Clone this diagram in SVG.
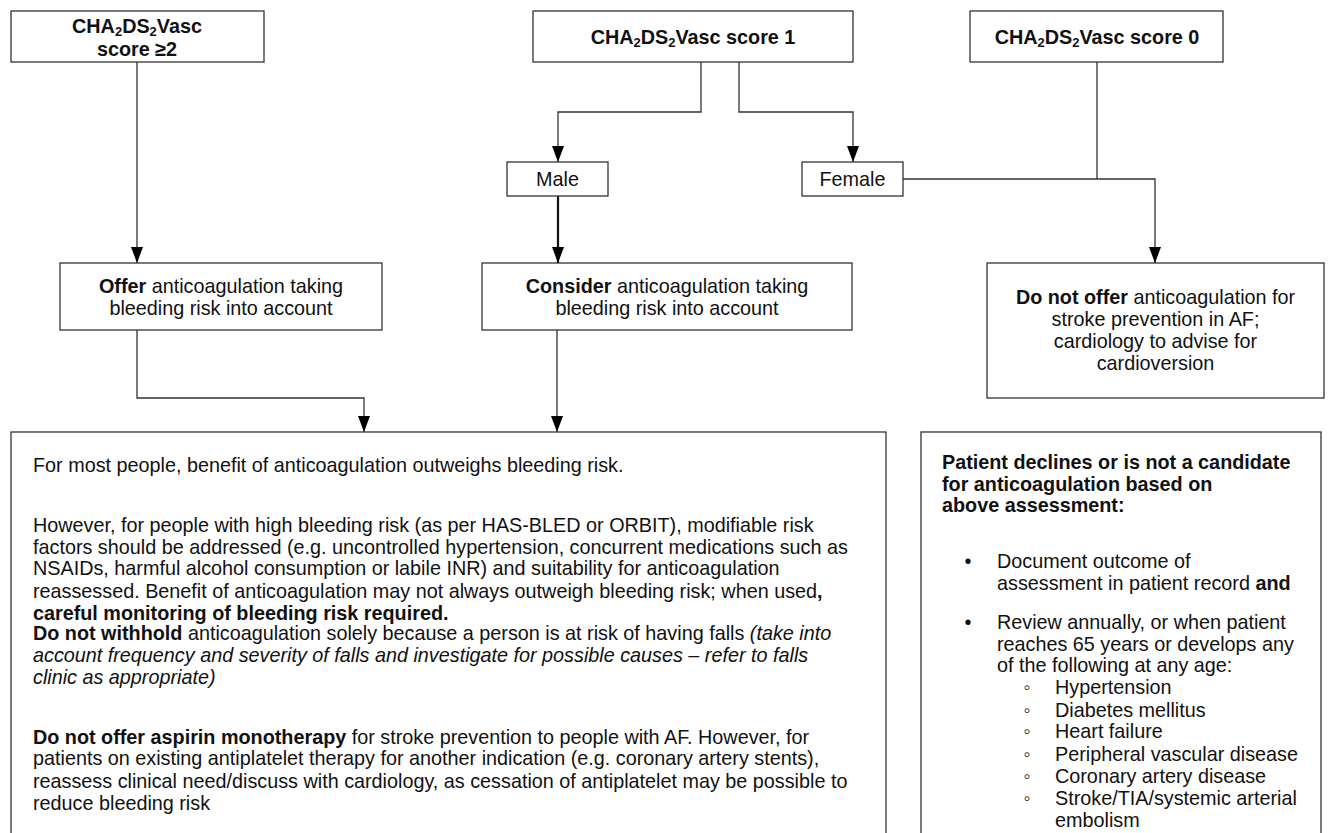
<svg xmlns="http://www.w3.org/2000/svg" width="1330" height="833" viewBox="0 0 1330 833">
<style>
text{font-family:"Liberation Sans",Arial,sans-serif;font-size:19.8px;fill:#111}
.c{text-anchor:middle}
.b{font-weight:bold}
.i{font-style:italic}
.box{fill:#fff;stroke:#333;stroke-width:1.3}
.ln{fill:none;stroke:#333;stroke-width:1.3}
.sub{font-size:13px}
</style>
<defs>
<marker id="ah" markerUnits="userSpaceOnUse" markerWidth="16" markerHeight="12" refX="16" refY="6" orient="auto">
<path d="M0,0 L16,6 L0,12 z" fill="#000"/>
</marker>
</defs>
<rect width="1330" height="833" fill="#fff"/>
<g id="connectors">
<path class="ln" d="M137,62 V263" marker-end="url(#ah)"/>
<path class="ln" d="M701,62 V112 H558 V162" marker-end="url(#ah)"/>
<path class="ln" d="M739,62 V112 H853 V162" marker-end="url(#ah)"/>
<path class="ln" style="stroke-width:2.2;stroke:#111" d="M558,196 V263" marker-end="url(#ah)"/>
<path class="ln" d="M903,179 H1155 V263" marker-end="url(#ah)"/>
<path class="ln" d="M1097,62 V179"/>
<path class="ln" d="M137,330 V398 H364 V432" marker-end="url(#ah)"/>
<path class="ln" d="M557,330 V432" marker-end="url(#ah)"/>
</g>
<g id="score2">
<rect class="box" x="11" y="11" width="253" height="51"/>
<text class="c b" x="137" y="33">CHA<tspan class="sub" dy="2.5">2</tspan><tspan dy="-2.5">DS</tspan><tspan class="sub" dy="2.5">2</tspan><tspan dy="-2.5">Vasc</tspan></text>
<text class="c b" x="137" y="55.5">score ≥2</text>
</g>
<g id="score1">
<rect class="box" x="533" y="11" width="320" height="51"/>
<text class="c b" x="693" y="44">CHA<tspan class="sub" dy="3">2</tspan><tspan dy="-3">DS</tspan><tspan class="sub" dy="3">2</tspan><tspan dy="-3">Vasc score 1</tspan></text>
</g>
<g id="score0">
<rect class="box" x="970" y="11" width="253" height="51"/>
<text class="c b" x="1097" y="44">CHA<tspan class="sub" dy="3">2</tspan><tspan dy="-3">DS</tspan><tspan class="sub" dy="3">2</tspan><tspan dy="-3">Vasc score 0</tspan></text>
</g>
<g id="male">
<rect class="box" x="507" y="162" width="101" height="34"/>
<text class="c" x="557.5" y="186">Male</text>
</g>
<g id="female">
<rect class="box" x="802" y="162" width="101" height="34"/>
<text class="c" x="852.5" y="186">Female</text>
</g>
<g id="offer">
<rect class="box" x="60" y="263" width="322" height="67"/>
<text class="c" x="221" y="293"><tspan class="b">Offer</tspan> anticoagulation taking</text>
<text class="c" x="221" y="315">bleeding risk into account</text>
</g>
<g id="consider">
<rect class="box" x="482" y="263" width="370" height="67"/>
<text class="c" x="667" y="293"><tspan class="b">Consider</tspan> anticoagulation taking</text>
<text class="c" x="667" y="315">bleeding risk into account</text>
</g>
<g id="donotoffer">
<rect class="box" x="987" y="263" width="337" height="135"/>
<text class="c" x="1155.5" y="304"><tspan class="b">Do not offer</tspan> anticoagulation for</text>
<text class="c" x="1155.5" y="326">stroke prevention in AF;</text>
<text class="c" x="1155.5" y="348">cardiology to advise for</text>
<text class="c" x="1155.5" y="370">cardioversion</text>
</g>
<g id="guidance">
<rect class="box" x="11" y="432" width="875" height="430"/>
<text x="33" y="472">For most people, benefit of anticoagulation outweighs bleeding risk.</text>
<text x="33" y="532">However, for people with high bleeding risk (as per HAS-BLED or ORBIT), modifiable risk</text>
<text x="33" y="554">factors should be addressed (e.g. uncontrolled hypertension, concurrent medications such as</text>
<text x="33" y="575">NSAIDs, harmful alcohol consumption or labile INR) and suitability for anticoagulation</text>
<text x="33" y="598">reassessed. Benefit of anticoagulation may not always outweigh bleeding risk; when used<tspan class="b">,</tspan></text>
<text x="33" y="620" class="b">careful monitoring of bleeding risk required.</text>
<text x="33" y="640"><tspan class="b">Do not withhold</tspan> anticoagulation solely because a person is at risk of having falls <tspan class="i">(take into</tspan></text>
<text x="33" y="662" class="i">account frequency and severity of falls and investigate for possible causes – refer to falls</text>
<text x="33" y="684" class="i">clinic as appropriate)</text>
<text x="33" y="744"><tspan class="b">Do not offer aspirin monotherapy</tspan> for stroke prevention to people with AF. However, for</text>
<text x="33" y="765">patients on existing antiplatelet therapy for another indication (e.g. coronary artery stents),</text>
<text x="33" y="788">reassess clinical need/discuss with cardiology, as cessation of antiplatelet may be possible to</text>
<text x="33" y="810">reduce bleeding risk</text>
</g>
<g id="declines">
<rect class="box" x="921" y="432" width="400" height="430"/>
<text x="942" y="469" class="b">Patient declines or is not a candidate</text>
<text x="942" y="491" class="b">for anticoagulation based on</text>
<text x="942" y="512" class="b">above assessment:</text>
<text class="c" x="968" y="568">•</text>
<text x="997" y="568">Document outcome of</text>
<text x="997" y="590">assessment in patient record <tspan class="b">and</tspan></text>
<text class="c" x="968" y="629">•</text>
<text x="997" y="629">Review annually, or when patient</text>
<text x="997" y="651">reaches 65 years or develops any</text>
<text x="997" y="672">of the following at any age:</text>
<text class="c" x="1027" y="694">◦</text>
<text x="1055" y="694">Hypertension</text>
<text class="c" x="1027" y="717">◦</text>
<text x="1055" y="717">Diabetes mellitus</text>
<text class="c" x="1027" y="738">◦</text>
<text x="1055" y="738">Heart failure</text>
<text class="c" x="1027" y="761">◦</text>
<text x="1055" y="761">Peripheral vascular disease</text>
<text class="c" x="1027" y="783">◦</text>
<text x="1055" y="783">Coronary artery disease</text>
<text class="c" x="1027" y="805">◦</text>
<text x="1055" y="805">Stroke/TIA/systemic arterial</text>
<text x="1055" y="827">embolism</text>
</g>
</svg>
